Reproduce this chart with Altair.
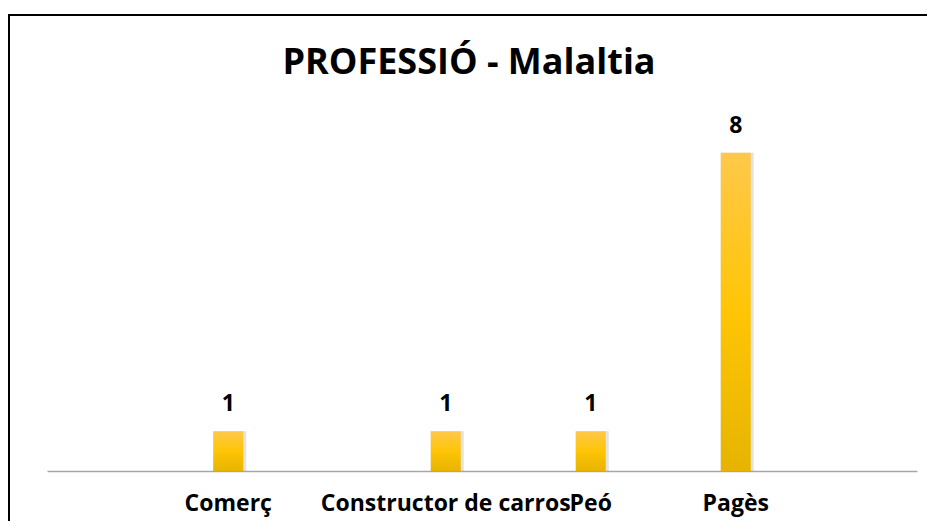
import altair as alt
import pandas as pd

categories = ["Comerç", "Constructor de carros", "Peó", "Pagès"]
values = [1, 1, 1, 8]
# axis slots (blank slots keep the original uneven spacing)
axis_slots = ["", " ", "Comerç", "  ", "   ", "Constructor de carros", "    ",
              "Peó", "     ", "Pagès", "      ", "       "]

df = pd.DataFrame({"cat": categories, "val": values})

FONT = "Open Sans"
W, H = 870, 358

x = alt.X("cat:N", scale=alt.Scale(domain=axis_slots, paddingInner=0, paddingOuter=0),
          sort=axis_slots,
          axis=alt.Axis(title=None, ticks=False, labelAngle=0, labelFont=FONT,
                        labelFontSize=23, labelFontWeight="bold", labelColor="black",
                        labelPadding=21, labelOverlap=False, labelLimit=400,
                        domainColor="#a6a6a6", domainWidth=1.5))
y = alt.Y("val:Q", scale=alt.Scale(domain=[0, 9], nice=False), axis=None)

gradient = alt.Gradient(gradient="linear", x1=0, y1=0, x2=0, y2=1,
                        stops=[alt.GradientStop(color="#FFC84A", offset=0),
                               alt.GradientStop(color="#FFC505", offset=0.5),
                               alt.GradientStop(color="#E6B400", offset=1)])

base = alt.Chart(df)
shadow = base.mark_bar(size=33, xOffset=1.5, color="#808080", opacity=0.22).encode(x=x, y=y)
bars = base.mark_bar(size=30, color=gradient).encode(x=x, y=y)
labels = base.mark_text(dy=-20, baseline="alphabetic", font=FONT, fontSize=23,
                        fontWeight="bold", color="black").encode(x=x, y=y, text="val:Q")
border = base.mark_rect(filled=False, stroke="black", strokeWidth=2).encode(
    x=alt.value(-38), x2=alt.value(885), y=alt.value(-98), y2=alt.value(470))

chart = alt.layer(border, shadow, bars, labels).properties(
    width=W, height=H,
    title=alt.TitleParams("PROFESSIÓ - Malaltia", font=FONT, fontSize=36,
                          fontWeight="bold", color="black", anchor="middle",
                          baseline="alphabetic", offset=-96, dx=-13),
    autosize=alt.AutoSizeParams(type="none"),
    padding={"left": 39, "top": 105, "right": 10, "bottom": 50},
).configure(background="white", view=alt.ViewConfig(strokeWidth=0, stroke="transparent"))

chart.save("out.html", embed_options={"renderer": "svg", "actions": False})
